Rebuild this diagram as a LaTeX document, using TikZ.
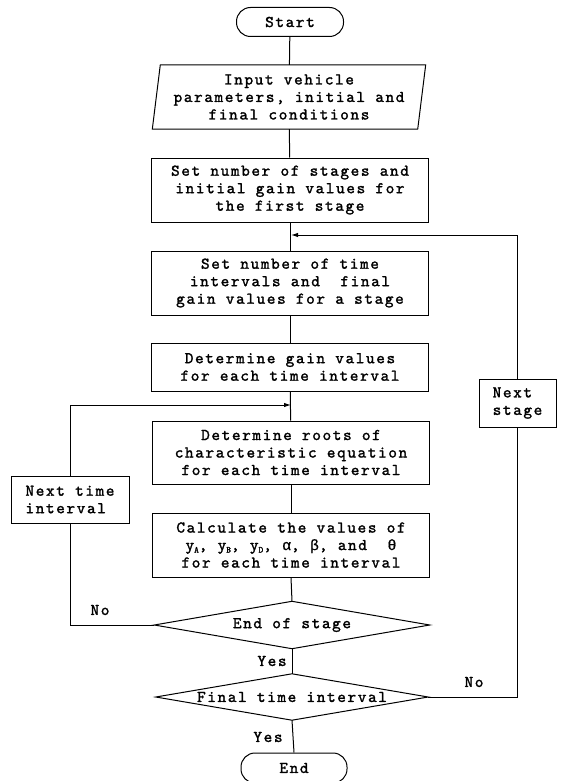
\documentclass[tikz,border=0pt]{standalone}
\usepackage{fontspec}
\newfontfamily\ffont{lmmono10-regular}[Extension=.otf,LetterSpace=10,FakeBold=1.6]
\newfontfamily\gfont{Liberation Mono}[FakeBold=0.8]
\usetikzlibrary{arrows.meta}
\newcommand\sbs[1]{\raisebox{-2.5pt}{\fontsize{9}{9}\selectfont #1}}
\newcommand\gk[1]{{\gfont\fontsize{15}{17.5}\selectfont #1}}
\begin{document}
\begin{tikzpicture}[x=1pt,y=-1pt,
  every node/.style={font=\ffont\fontsize{16.4}{17.5}\selectfont, inner sep=2pt},
  box/.style={draw, line width=1pt, rectangle, minimum width=277pt, minimum height=64pt, align=center},
  sidebox/.style={draw, line width=1pt, rectangle, align=left, inner sep=8pt, anchor=center},
  term/.style={draw, line width=1pt, rectangle, rounded corners=14pt, minimum width=107pt, minimum height=29pt},
  blank/.style={draw=none, rectangle, minimum width=#1},
  lab/.style={draw=none},
  conn/.style={line width=1pt},
  junc/.style={line width=1pt, -{Latex[length=7pt,width=4.5pt]}}
]
\clip (0,0) rectangle (563,781);
\fill[white] (0,0) rectangle (563,781);

\node[term] (start) at (290,22) {Start};
\node[blank=273pt, minimum height=64pt, align=center] (input) at (289,97)
  {Input vehicle\\parameters, initial and\\final conditions};
\draw[line width=1pt] ([xshift=8pt]input.north west) -- (input.north east)
  -- ([xshift=-8pt]input.south east) -- (input.south west) -- cycle;
\node[box] (b2) at (290,190) {Set number of stages and\\initial gain values for\\the first stage};
\node[box] (b3) at (290,283) {Set number of time\\intervals and\ \ final\\gain values for a stage};
\node[box, minimum height=48pt] (b4) at (290,367) {Determine gain values\\for each time interval};
\node[box, minimum height=63pt] (b5) at (291,452.5) {Determine roots of\\characteristic equation\\for each time interval};
\node[box] (b6) at (291,545) {Calculate the values of\\y\sbs{A}, y\sbs{B}, y\sbs{D}, \gk{α}, \gk{β}, and\ \ \gk{θ}\\for each time interval};
\node[blank=275pt, minimum height=47pt] (d1) at (292,625) {End of stage};
\draw[line width=1pt] (d1.north) -- (d1.east) -- (d1.south) -- (d1.west) -- cycle;
\node[blank=272pt, minimum height=46pt] (d2) at (292,697) {Final time interval};
\draw[line width=1pt] (d2.north) -- (d2.east) -- (d2.south) -- (d2.west) -- cycle;
\node[term, minimum height=30pt, minimum width=106pt] (end) at (294,768) {End};

\node[sidebox, minimum width=77pt, minimum height=48pt] (ns) at (517.5,403) {Next\\stage};
\node[sidebox, minimum width=118pt, minimum height=47pt] (nt) at (70,499.5) {Next time\\interval};

\coordinate (j1) at (291,235);
\coordinate (j2) at (291,405);

\draw[conn] (start) -- (input);
\draw[conn] (input) -- (b2);
\draw[conn] (b2) -- (b3);
\draw[conn] (b3) -- (b4);
\draw[conn] (b4) -- (b5);
\draw[conn] (b5) -- (b6);
\draw[conn] (b6.south) -- (d1.north);
\draw[conn] (d1.south) -- (d2.north);
\draw[conn] (d2.south) -- (end.north);

\draw[conn] (d2.east) -| (ns.south);
\draw[junc] (ns.north) |- (j1);
\draw[conn] (d1.west) -| (nt.south);
\draw[junc] (nt.north) |- (j2);

\node[lab] (no1) at (100,610) {No};
\node[lab] (yes1) at (272,661) {Yes};
\node[lab] (no2) at (474,682) {No};
\node[lab] (yes2) at (268,737) {Yes};
\end{tikzpicture}
\end{document}
